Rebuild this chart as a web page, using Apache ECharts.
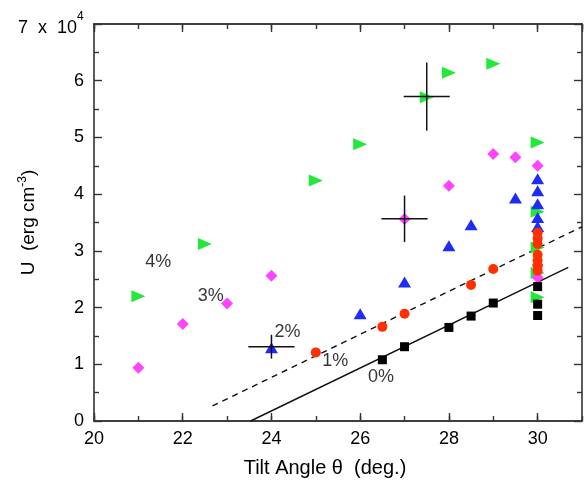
<!DOCTYPE html>
<html>
<head>
<meta charset="utf-8">
<script src="https://cdn.jsdelivr.net/npm/echarts@6/dist/echarts.min.js"></script>
<style>
html,body{margin:0;padding:0;background:#fff;}
#chart{width:584px;height:481px;}
</style>
</head>
<body>
<div id="chart"></div>
<script>
// Data (tilt angle in degrees, U in units of 10^4 erg cm^-3)
const pct0 = [[26.5,1.08],[27,1.31],[28,1.65],[28.5,1.85],[29,2.08],[30,2.37],[30,2.06],[30,1.86]];
const pct1 = [[25,1.21],[26.5,1.66],[27,1.89],[28.5,2.4],[29,2.68],[30,3.32],[30,3.22],[30,3.12],[30,2.93],[30,2.83],[30,2.73],[30,2.65]];
const pct2 = [[24,1.29],[26,1.89],[27,2.45],[28,3.09],[28.5,3.46],[29.5,3.93],[30,4.27],[30,4.06],[30,3.83],[30,3.59],[30,3.43]];
const pct3 = [[21,0.94],[22,1.71],[23,2.07],[24,2.56],[27,3.56],[28,4.15],[29,4.71],[29.5,4.65],[30,4.5],[30,3.34],[30,2.75],[30,2.53]];
const pct4 = [[21,2.2],[22.5,3.12],[25,4.24],[26,4.88],[27.5,5.71],[28,6.14],[29,6.3],[30,4.91],[30,3.69],[30,3.06],[30,2.61],[30,2.18]];
// error bars: x, y, dx, dy
const errorBars = [[24,1.31,0.52,0.21],[27,3.565,0.52,0.41],[27.5,5.72,0.52,0.6]];
// fit lines
const fit0 = [[23.53,0],[30.69,2.71]];
const fit1 = [[22.67,0.265],[31,3.425]];
// annotation labels
const labels = [[21.45,2.80,'4%'],[22.63,2.2,'3%'],[24.36,1.57,'2%'],[25.44,1.05,'1%'],[26.47,0.78,'0%']];
const xTicks = [20,22,24,26,28,30];
const yTicks = [0,1,2,3,4,5,6,7];

const FONT = 'Liberation Sans, Arial, Helvetica, sans-serif';
const AX = '#333';
const TXT = '#000';
const chart = echarts.init(document.getElementById('chart'));

function xAx(pos, major, showLabel){
  return {
    type:'value', position:pos, min:20, max:31, interval: major?2:1,
    axisLine:{show:true, lineStyle:{color:AX, width:1.6}},
    axisTick:{show:true, inside:true, length: major?8:5, lineStyle:{color:AX, width:1.4}},
    axisLabel:{show:showLabel, showMaxLabel:false, margin:9, color:TXT, fontFamily:FONT, fontSize:18,
      formatter: v => xTicks.indexOf(v) >= 0 ? String(v) : ''},
    splitLine:{show:false},
    name: showLabel ? 'Tilt Angle θ  (deg.)' : '',
    nameLocation:'middle', nameGap:37, nameMoveOverlap:false,
    nameTextStyle:{color:TXT, fontFamily:FONT, fontSize:20, padding:[0,26,0,0]}
  };
}
function yAx(pos, showLabel){
  return {
    type:'value', position:pos, min:0, max:7, interval:1,
    axisLine:{show:true, lineStyle:{color:AX, width:1.6}},
    axisTick:{show:true, inside:true, length:8, lineStyle:{color:AX, width:1.4}},
    minorTick:{show:true, splitNumber:2, length:5, lineStyle:{color:AX, width:1.4}},
    axisLabel:{show:showLabel, margin:10, color:TXT, fontFamily:FONT, fontSize:18,
      formatter: v => v === 7 ? '{a|7  x  10}{s|4}{e| }' : (yTicks.indexOf(v)>=0 ? String(v) : ''),
      rich:{a:{fontFamily:FONT, fontSize:18, lineHeight:22, verticalAlign:'bottom', color:TXT},
            s:{fontFamily:FONT, fontSize:12, verticalAlign:'top', color:TXT},
            e:{fontFamily:FONT, fontSize:1, lineHeight:26, verticalAlign:'middle', color:TXT}}},
    splitLine:{show:false},
    minorSplitLine:{show:false},
    name: showLabel ? '{a|U  (erg cm}{s|-3}{a|)}' : '',
    nameLocation:'middle', nameGap:53, nameRotate:90, nameMoveOverlap:false,
    nameTextStyle:{color:TXT, fontFamily:FONT, fontSize:19,
      rich:{a:{fontFamily:FONT, fontSize:19, lineHeight:24, color:TXT}, s:{fontFamily:FONT, fontSize:12, lineHeight:12, verticalAlign:'top', color:TXT}}}
  };
}

function scatter(data, symbol, size, color, rotate){
  return {type:'scatter', xAxisIndex:0, yAxisIndex:0, data:data, symbol:symbol, symbolSize:size,
    symbolRotate: rotate||0, itemStyle:{color:color, opacity:1}, silent:true, z:3};
}

chart.setOption({
  animation:false,
  backgroundColor:'#fff',
  grid:{left:94, right:2, top:24, bottom:60, containLabel:false, outerBoundsMode:'none'},
  xAxis:[xAx('bottom',true,true), xAx('bottom',false,false), xAx('top',true,false), xAx('top',false,false)],
  yAxis:[yAx('left',true), yAx('right',false)],
  series:[
    {type:'line', data:fit0, showSymbol:false, symbol:'none', lineStyle:{color:'#111', width:1.4, type:'solid'}, z:2, silent:true},
    {type:'line', data:fit1, showSymbol:false, symbol:'none', lineStyle:{color:'#111', width:1.4, type:[6,5]}, z:2, silent:true},
    scatter(pct4, 'triangle', [12,14], '#22e83a', -90),
    scatter(pct3, 'diamond', [12,12], '#ff44ff'),
    scatter(pct2, 'triangle', [13,11], '#1f2cf5'),
    scatter(pct1, 'circle', 10, '#ff3000'),
    scatter(pct0, 'rect', 9, '#000'),
    {type:'custom', xAxisIndex:0, yAxisIndex:0, data:errorBars, silent:true, z:4,
      renderItem:function(params, api){
        const x=api.value(0), y=api.value(1), dx=api.value(2), dy=api.value(3);
        const l=api.coord([x-dx,y]), r=api.coord([x+dx,y]), t=api.coord([x,y+dy]), b=api.coord([x,y-dy]);
        const st={stroke:'#111', lineWidth:1.5};
        return {type:'group', children:[
          {type:'line', shape:{x1:l[0],y1:l[1],x2:r[0],y2:r[1]}, style:st},
          {type:'line', shape:{x1:t[0],y1:t[1],x2:b[0],y2:b[1]}, style:st}
        ]};
      }},
    {type:'scatter', xAxisIndex:0, yAxisIndex:0, data:labels, symbolSize:0, silent:true, z:5,
      label:{show:true, position:'inside', formatter:p=>p.value[2], color:TXT, fontFamily:FONT, fontSize:18}}
  ]
});
</script>
</body>
</html>
